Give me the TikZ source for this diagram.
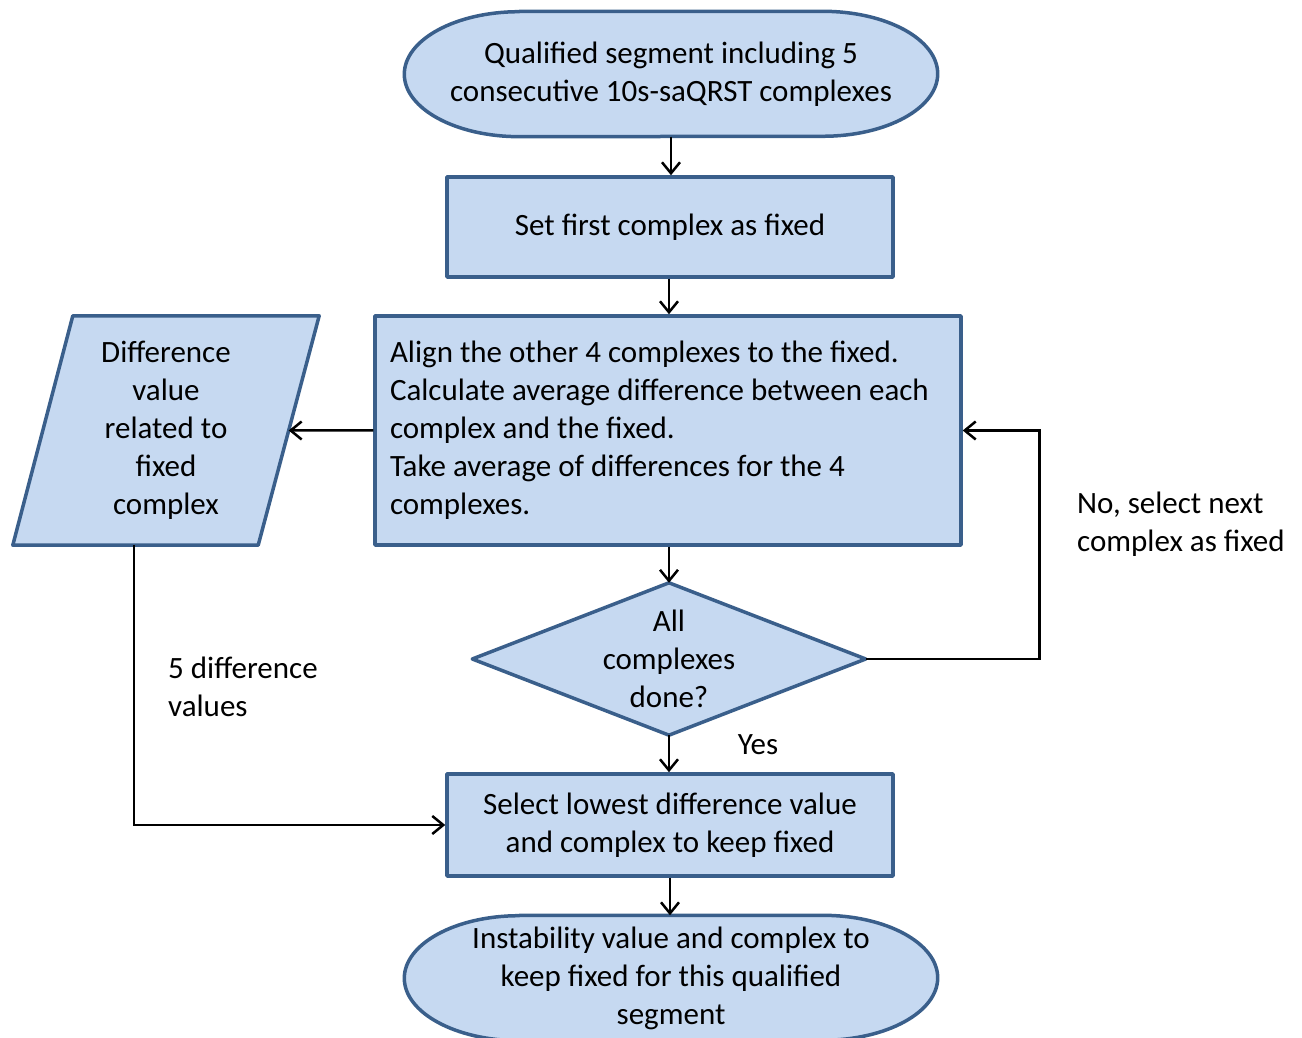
\documentclass[tikz,border=0pt]{standalone}
\usepackage{fontspec}
\setmainfont{Carlito}
\usetikzlibrary{arrows.meta}
\usetikzlibrary{backgrounds}
\usetikzlibrary{calc}
\definecolor{boxfill}{RGB}{198,217,241}
\definecolor{boxline}{RGB}{58,95,139}

\begin{document}
\begin{tikzpicture}[x=1pt,y=1pt,
  font=\fontsize{31}{38}\selectfont,
  shapeline/.style={draw=boxline,line width=3.5pt,fill=boxfill,line join=round},
  proc/.style={shapeline,minimum width=446pt,minimum height=100pt,align=center,inner sep=0pt},
  plain/.style={inner sep=0pt,align=center},
  arr/.style={line width=2.5pt,-{Straight Barb[length=11pt,width=18pt,line width=2.5pt]}}]
\useasboundingbox (0,0) rectangle (1302,1038);

% Terminal: start
\node[plain,minimum width=533pt,minimum height=125pt] (start) at (671,964) {Qualified segment including 5\\consecutive 10s-saQRST complexes};

% Process: first fixed
\node[proc] (first) at (670,811) {Set first complex as fixed};

% Process: align and average
\node[shapeline,minimum width=586pt,minimum height=229pt,text width=556pt,inner xsep=15pt,inner ysep=0pt,align=flush left] (align) at (668,607.5) {Align the other 4 complexes to the fixed.\\Calculate average difference between each\\complex and the fixed.\\Take average of differences for the 4\\complexes.};

% Data: difference value
\node[plain,minimum width=306pt,minimum height=229pt] (diff) at (166,607.5) {Difference\\value\\related to\\fixed\\complex};
\coordinate (diffR) at ($(diff.north east)!0.5!([xshift=-61pt]diff.south east)$);
\coordinate (diffB) at ([xshift=121pt]diff.south west);

% Decision: all done
\node[plain,minimum width=393pt,minimum height=152pt] (done) at (669,379) {All\\complexes\\done?};

% Process: select lowest
\node[proc,minimum height=102pt] (select) at (670,213) {Select lowest difference value\\and complex to keep fixed};

% Terminal: result
\node[plain,minimum width=533pt,minimum height=125pt] (result) at (671,60) {Instability value and complex to\\keep fixed for this qualified\\segment};

% Outlines behind the texts
\begin{scope}[on background layer]
\draw[shapeline] ([xshift=115pt]start.north west) -- ([xshift=-115pt]start.north east)
  arc[start angle=90,end angle=-90,x radius=115pt,y radius=62.5pt]
  -- ([xshift=115pt]start.south west)
  arc[start angle=270,end angle=90,x radius=115pt,y radius=62.5pt] -- cycle;
\draw[shapeline] ([xshift=115pt]result.north west) -- ([xshift=-115pt]result.north east)
  arc[start angle=90,end angle=-90,x radius=115pt,y radius=62.5pt]
  -- ([xshift=115pt]result.south west)
  arc[start angle=270,end angle=90,x radius=115pt,y radius=62.5pt] -- cycle;
\draw[shapeline] ([xshift=60pt]diff.north west) -- (diff.north east) -- ([xshift=-61pt]diff.south east) -- (diff.south west) -- cycle;
\draw[shapeline] (done.north) -- (done.east) -- (done.south) -- (done.west) -- cycle;
\end{scope}

% Connectors
\draw[arr] (start.south) -- (start.south |- first.north);
\draw[arr] ([xshift=-1pt]first.south) -- ([xshift=-1pt]first.south |- align.north);
\draw[arr] (align.west) -- (diffR);
\draw[arr] ([xshift=1pt]align.south) -- (done.north);
\draw[arr] (done.south) -- (done.south |- select.north);
\draw[arr] (select.south) -- (select.south |- result.north);
\draw[arr] (done.east) -- ++(174,0) |- (align.east);
\draw[arr] (diffB) |- (select.west);

% Labels
\node[anchor=west,inner sep=0pt,align=left] (nolabel) at (1077,513.5) {No, select next\\complex as fixed};
\node[anchor=west,inner sep=0pt,align=left] (fivelabel) at (168,351) {5 difference\\values};
\node[inner sep=0pt] (yeslabel) at (758,293) {Yes};

\end{tikzpicture}
\end{document}
